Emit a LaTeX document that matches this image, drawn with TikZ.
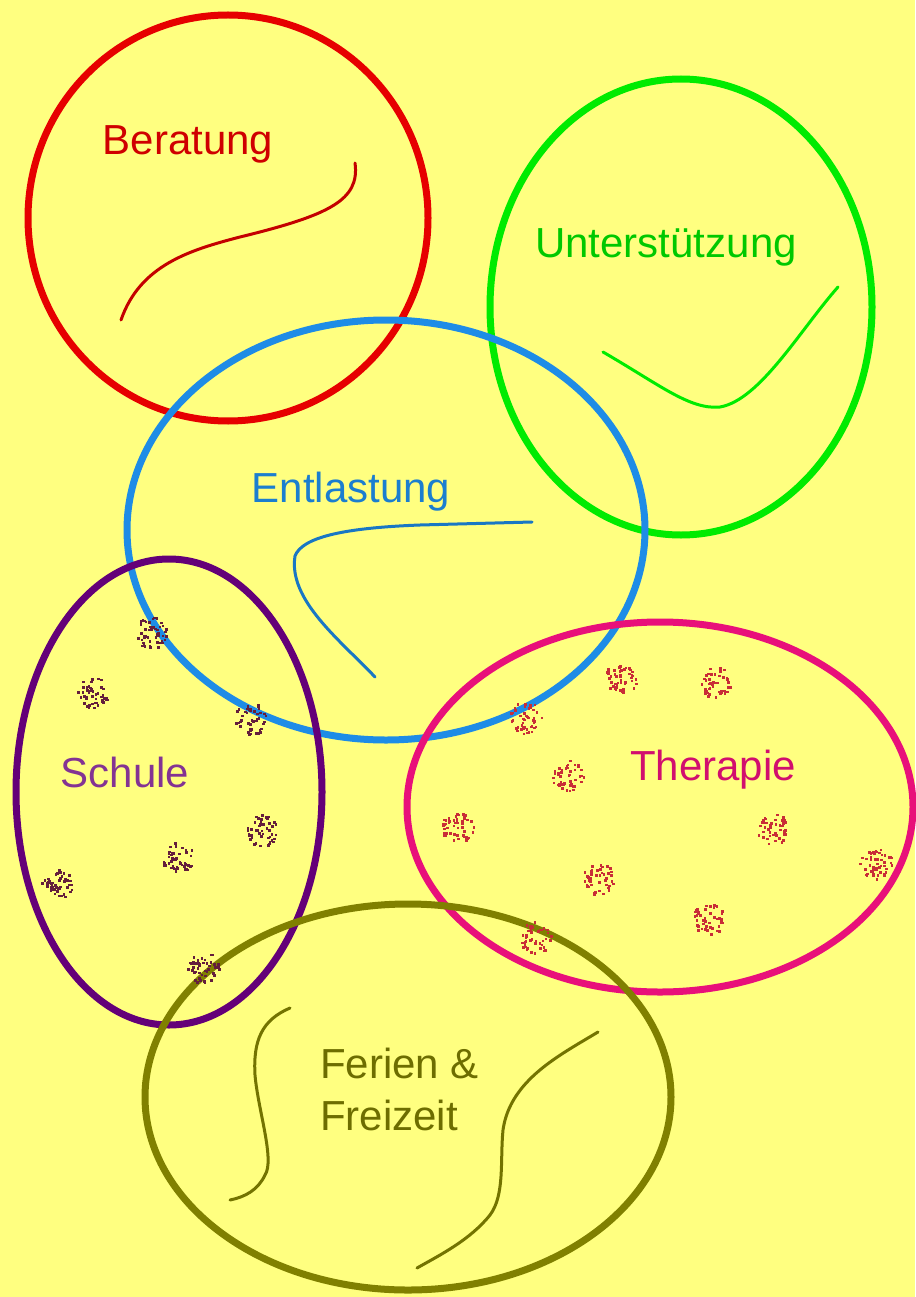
\documentclass[tikz,border=0pt]{standalone}
\usepackage{fontspec}
\setmainfont{Liberation Sans}
\definecolor{paper}{RGB}{255,255,128}
\definecolor{berred}{RGB}{230,0,0}
\definecolor{untgreen}{RGB}{0,235,0}
\definecolor{entblue}{RGB}{30,140,230}
\definecolor{schpurple}{RGB}{100,0,120}
\definecolor{thepink}{RGB}{232,16,122}
\definecolor{ferolive}{RGB}{128,128,0}
\definecolor{dotschule}{RGB}{100,30,60}
\definecolor{dottherapie}{RGB}{200,45,55}

\tikzset{
  ring/.style={line width=7pt},
  stroke/.style={line width=3pt, line cap=round},
  label/.style={anchor=base, inner sep=0pt, font=\fontsize{42}{52}\selectfont},
  speck/.pic={
    \foreach \k in {1,...,48}{
      \pgfmathsetmacro\ang{360*rnd}
      \pgfmathsetmacro\rad{16*sqrt(rnd)}
      \fill (\ang:\rad) rectangle ++(2.6,2.6);
    }
  }
}

\begin{document}
\begin{tikzpicture}[x=1pt, y=-1pt, line join=round]
  \pgfmathsetseed{7}
  \fill[paper] (0,0) rectangle (915,1297);
  \useasboundingbox (0,0) rectangle (915,1297);

  % the six rings
  \draw[ring, berred]    (228,218)  ellipse [x radius=200, y radius=203];
  \draw[ring, untgreen]  (681,307)  ellipse [x radius=191, y radius=228];
  \draw[ring, entblue]   (386,530)  ellipse [x radius=259, y radius=210];
  \draw[ring, schpurple] (169,792)  ellipse [x radius=153, y radius=233];
  \draw[ring, thepink]   (660,807)  ellipse [x radius=253, y radius=185];
  \draw[ring, ferolive]  (408,1097) ellipse [x radius=263, y radius=193];

  % squiggles
  \draw[stroke, berred!85!black] (121,320) .. controls (140,265) and (190,250) .. (240,237)
    .. controls (330,215) and (360,200) .. (355,163);
  \draw[stroke, untgreen] (603,352) .. controls (660,385) and (690,410) .. (720,407)
    .. controls (760,400) and (800,330) .. (838,287);
  \draw[stroke, entblue!85!black] (532,522) -- (420,525) .. controls (340,528) and (302,538) .. (295,556)
    .. controls (288,600) and (340,640) .. (375,677);
  \draw[stroke, ferolive!90!black] (290,1008) .. controls (262,1020) and (253,1040) .. (255,1075)
    .. controls (258,1110) and (275,1160) .. (265,1175)
    .. controls (258,1190) and (245,1197) .. (230,1200);
  \draw[stroke, ferolive!90!black] (598,1032) .. controls (560,1055) and (510,1080) .. (503,1130)
    .. controls (500,1160) and (505,1195) .. (490,1215)
    .. controls (470,1240) and (440,1255) .. (417,1268);

  % speckled spots
  \foreach \p in {(150,632),(93,692),(250,718),(262,830),(177,857),(57,883),(203,967)}
    \pic[dotschule] at \p {speck};
  \foreach \p in {(525,717),(620,678),(715,682),(567,775),(457,827),
                  (772,828),(875,862),(598,878),(708,918),(535,937)}
    \pic[dottherapie] at \p {speck};

  % labels
  \node[label, text=berred!90!black]    (beratung) at (188,155) {Beratung};
  \node[label, text=untgreen!85!black]  (unterst)  at (666,258) {Unterstützung};
  \node[label, text=entblue!90!black]   (entlast)  at (351,502) {Entlastung};
  \node[label, text=schpurple!80!white] (schule)   at (125,787) {Schule};
  \node[label, text=thepink!90!black]   (therapie) at (713,780) {Therapie};
  \node[label, anchor=base west, text=ferolive!85!black] (ferien)   at (320,1078) {Ferien \&};
  \node[label, anchor=base west, text=ferolive!85!black] (freizeit) at (320,1130) {Freizeit};
\end{tikzpicture}
\end{document}
